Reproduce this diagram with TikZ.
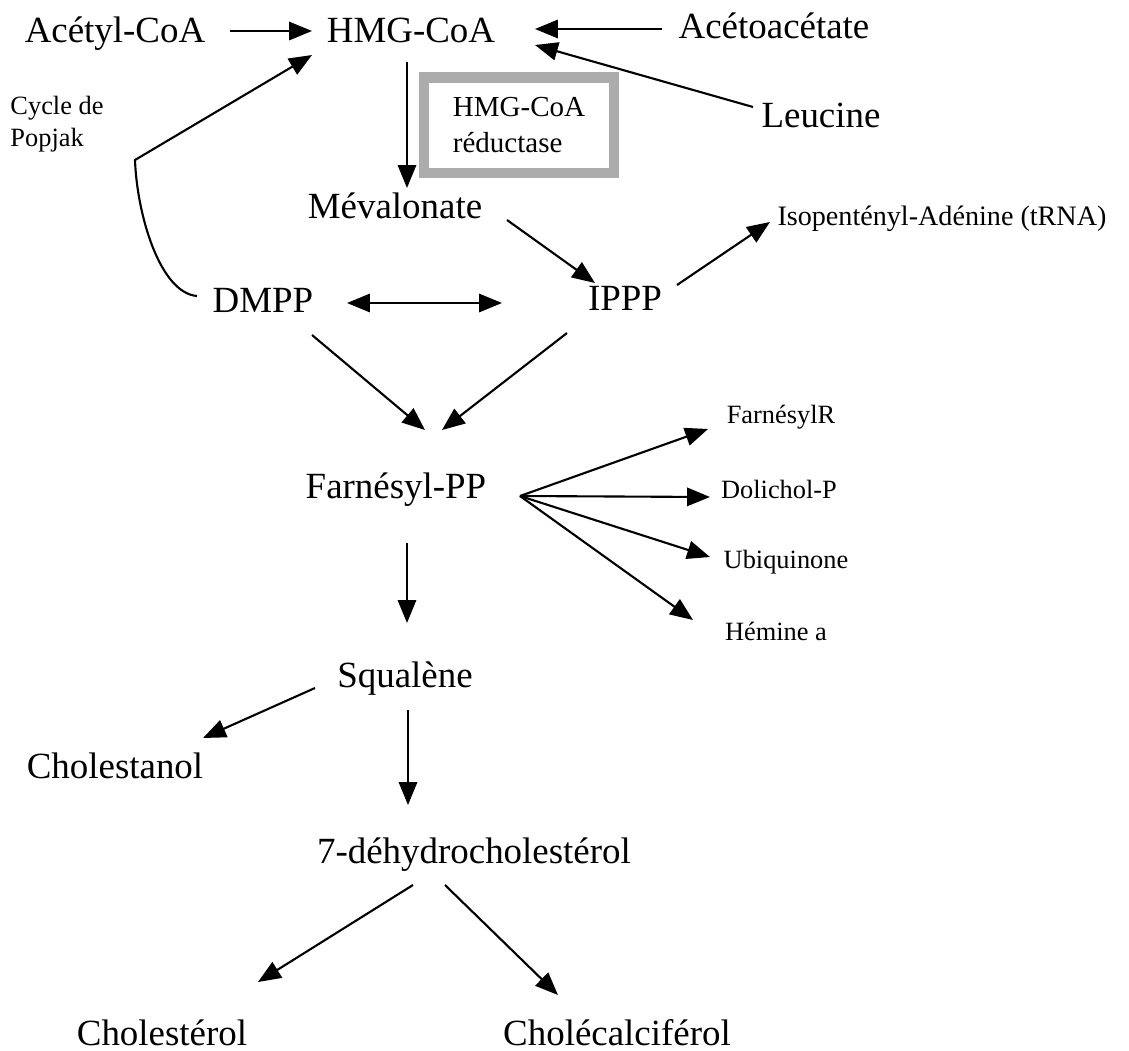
\documentclass[tikz,border=0pt]{standalone}
\usepackage{fontspec}
\setmainfont{Liberation Serif}
\usetikzlibrary{arrows.meta}
\tikzset{
  big/.style={font=\fontsize{10.5}{12}\selectfont, inner sep=0pt, anchor=base},
  small/.style={font=\fontsize{7.5}{9}\selectfont, inner sep=0pt, anchor=base},
  enzbox/.style={draw=gray!65, line width=3pt, minimum width=1.9cm, minimum height=0.955cm,
                 align=left, font=\fontsize{8.25}{10.5}\selectfont},
  arr/.style={-{Triangle[length=6.5pt,width=5.2pt]}, line width=0.6pt},
  dblarr/.style={{Triangle[length=6.5pt,width=5.2pt]}-{Triangle[length=6.5pt,width=5.2pt]}, line width=0.6pt}
}
\begin{document}
\begin{tikzpicture}[x=0.01cm, y=-0.01cm]
\useasboundingbox (0,0) rectangle (1129,1051);
% entries
\node[big] (acetyl) at (115,42) {Acétyl-CoA};
\node[big] (hmg) at (411,42) {HMG-CoA};
\node[big] (aceto) at (774,38) {Acétoacétate};
\node[big] (leu) at (821,127) {Leucine};
\node[enzbox] (red) at (519,125) {HMG-CoA\\réductase};
\node[small, anchor=center, align=left, font=\fontsize{7.5}{9.1}\selectfont] (popjak) at (57,124) {Cycle de\\Popjak};
% mevalonate branch
\node[big] (meva) at (395,218) {Mévalonate};
\node[small, font=\fontsize{8}{9}\selectfont] (iso) at (942,225) {Isopentényl-Adénine (tRNA)};
\node[big] (dmpp) at (263,312) {DMPP};
\node[big] (ippp) at (625,310) {IPPP};
\node[big] (farn) at (396,498) {Farnésyl-PP};
\node[small] (farnR) at (781,423) {FarnésylR};
\node[small] (doli) at (779,498) {Dolichol-P};
\node[small] (ubi) at (786,568) {Ubiquinone};
\node[small] (hem) at (776,640) {Hémine a};
% sterols
\node[big] (squal) at (405,687) {Squalène};
\node[big] (cholan) at (115,778) {Cholestanol};
\node[big] (dhc) at (474,863) {7-déhydrocholestérol};
\node[big] (chol) at (162,1045) {Cholestérol};
\node[big] (calci) at (617,1045) {Cholécalciférol};

\draw[arr] ([shift={(115,-11)}]acetyl.base) -- ([shift={(-99,-11)}]hmg.base);
\draw[arr] ([shift={(-112,-9)}]aceto.base) -- ([shift={(124,-13)}]hmg.base);
\draw[arr] ([shift={(-68,-20)}]leu.base) -- ([shift={(124,3)}]hmg.base);
\draw[arr] ([shift={(-4,20)}]hmg.base) -- ([shift={(12,-30)}]meva.base);
\draw[arr] ([shift={(-66,-16)}]dmpp.base) .. controls +(-37,-3) and +(2,55) .. ++(-62,-136)
  -- ([shift={(-99,13)}]hmg.base);
\draw[arr] ([shift={(112,2)}]meva.base) -- ([shift={(-30,-27)}]ippp.base);
\draw[arr] ([shift={(52,-25)}]ippp.base) -- ([shift={(-172,-3)}]iso.base);
\draw[dblarr] ([shift={(84,-9)}]dmpp.base) -- ([shift={(-123,-7)}]ippp.base);
\draw[arr] ([shift={(49,23)}]dmpp.base) -- ([shift={(29,-68)}]farn.base);
\draw[arr] ([shift={(-58,23)}]ippp.base) -- ([shift={(46,-68)}]farn.base);
\draw[arr] ([shift={(124,-2)}]farn.base) -- ([shift={(-73,6)}]farnR.base);
\draw[arr] ([shift={(124,-2)}]farn.base) -- ([shift={(-69,-1)}]doli.base);
\draw[arr] ([shift={(124,-2)}]farn.base) -- ([shift={(-76,-11)}]ubi.base);
\draw[arr] ([shift={(124,-2)}]farn.base) -- ([shift={(-83,-20)}]hem.base);
\draw[arr] ([shift={(11,45)}]farn.base) -- ([shift={(2,-64)}]squal.base);
\draw[arr] ([shift={(-90,1)}]squal.base) -- ([shift={(88,-40)}]cholan.base);
\draw[arr] ([shift={(3,23)}]squal.base) -- ([shift={(-66,-58)}]dhc.base);
\draw[arr] ([shift={(-61,22)}]dhc.base) -- ([shift={(96,-63)}]chol.base);
\draw[arr] ([shift={(-29,22)}]dhc.base) -- ([shift={(-59,-50)}]calci.base);
\end{tikzpicture}
\end{document}
